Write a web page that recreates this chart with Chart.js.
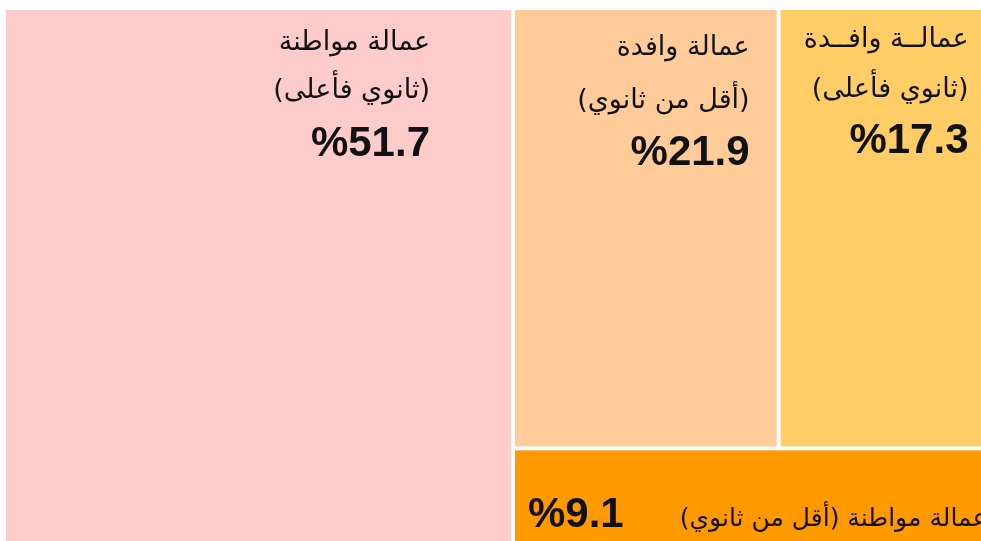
<!DOCTYPE html>
<html lang="ar">
<head>
<meta charset="utf-8">
<script src="https://cdn.jsdelivr.net/npm/chart.js@4.4.1/dist/chart.umd.min.js"></script>
<style>
  html, body { margin: 0; padding: 0; background: #ffffff; overflow: hidden; width: 981px; height: 541px; }
  #wrap { position: absolute; left: 0; top: 0; width: 1000px; height: 560px; }
</style>
</head>
<body>
<div id="wrap"><canvas id="c" width="1000" height="560"></canvas></div>
<script>
// ---- data ----
const categories = [
  'عمالة مواطنة (ثانوي فأعلى)',
  'عمالة وافدة (أقل من ثانوي)',
  'عمالة وافدة (ثانوي فأعلى)',
  'عمالة مواطنة (أقل من ثانوي)'
];
const labelLine1 = ['عمالة مواطنة', 'عمالة وافدة', 'عمالــة وافــدة', 'عمالة مواطنة (أقل من ثانوي)'];
const labelLine2 = ['(ثانوي فأعلى)', '(أقل من ثانوي)', '(ثانوي فأعلى)', ''];
const shares = [51.7, 21.9, 17.3, 9.1];
const percentLabels = ['%51.7', '%21.9', '%17.3', '%9.1'];

// ---- styles ----
const fillColors = ['#FECBCB', '#FFCC99', '#FFCC66', '#FF9900'];
const GAP = 2;
const arabicFont = '27px "DejaVu Sans", sans-serif';
const arabicInlineFont = '25px "DejaVu Sans", sans-serif';
const percentFont = 'bold 42px "Liberation Sans", Arial, sans-serif';
// per-tile label placement (pixels relative to tile): right inset, line baselines
const labelStyle = [
  { right: 81, b1: 40, b2: 88, bp: 146 },
  { right: 27, b1: 45, b2: 98, bp: 155 },
  { right: 18, b1: 37, b2: 87, bp: 143 },
  { inline: true, left: 13, bp: 77, textLeftGap: 56 }
];

// treemap layout in value space (0..100 on both axes)
function layoutTiles(vals) {
  const total = vals.reduce((a, b) => a + b, 0);
  const tiles = [];
  const xSplit = vals[0] / total * 100;
  tiles.push({ x0: 0, x1: xSplit, y0: 0, y1: 100 });
  const rest = vals.slice(1).reduce((a, b) => a + b, 0);
  const topSum = vals[1] + vals[2];
  const ySplit = topSum / rest * 100;
  const xMid = xSplit + vals[1] / topSum * (100 - xSplit);
  tiles.push({ x0: xSplit, x1: xMid, y0: 0, y1: ySplit });
  tiles.push({ x0: xMid, x1: 100, y0: 0, y1: ySplit });
  tiles.push({ x0: xSplit, x1: 100, y0: ySplit, y1: 100 });
  return tiles;
}

const treemapPlugin = {
  id: 'treemapTiles',
  afterDatasetsDraw(chart) {
    const ctx = chart.ctx;
    const xs = chart.scales.x, ys = chart.scales.y;
    const tiles = layoutTiles(shares);
    tiles.forEach((t, i) => {
      const l = xs.getPixelForValue(t.x0) + GAP;
      const r = xs.getPixelForValue(t.x1) - GAP;
      const top = ys.getPixelForValue(t.y0) + GAP;
      const bot = ys.getPixelForValue(t.y1) - GAP;
      ctx.save();
      ctx.fillStyle = fillColors[i];
      ctx.fillRect(l, top, r - l, bot - top);
      ctx.restore();

      const st = labelStyle[i];
      ctx.save();
      ctx.fillStyle = '#111111';
      if (st.inline) {
        ctx.direction = 'ltr';
        ctx.textAlign = 'left';
        ctx.font = percentFont;
        ctx.fillText(percentLabels[i], l + st.left, top + st.bp);
        const pw = ctx.measureText(percentLabels[i]).width;
        ctx.direction = 'rtl';
        ctx.textAlign = 'left';
        ctx.font = arabicInlineFont;
        ctx.fillText(labelLine1[i], l + st.left + pw + st.textLeftGap, top + st.bp - 1);
      } else {
        const xr = r - st.right;
        ctx.direction = 'rtl';
        ctx.textAlign = 'right';
        ctx.font = arabicFont;
        ctx.fillText(labelLine1[i], xr, top + st.b1);
        ctx.fillText(labelLine2[i], xr, top + st.b2);
        ctx.direction = 'ltr';
        ctx.textAlign = 'right';
        ctx.font = percentFont;
        ctx.fillText(percentLabels[i], xr, top + st.bp);
      }
      ctx.restore();
    });
  }
};

new Chart(document.getElementById('c'), {
  type: 'scatter',
  data: {
    labels: categories,
    datasets: [{ label: 'share', data: [], pointRadius: 0 }]
  },
  options: {
    responsive: false,
    animation: false,
    layout: { padding: { left: 4, top: 8, right: 11.5, bottom: 9.4 } },
    scales: {
      x: { type: 'linear', min: 0, max: 100, display: false },
      y: { type: 'linear', min: 0, max: 100, reverse: true, display: false }
    },
    plugins: { legend: { display: false }, tooltip: { enabled: false } }
  },
  plugins: [treemapPlugin]
});
</script>
</body>
</html>
